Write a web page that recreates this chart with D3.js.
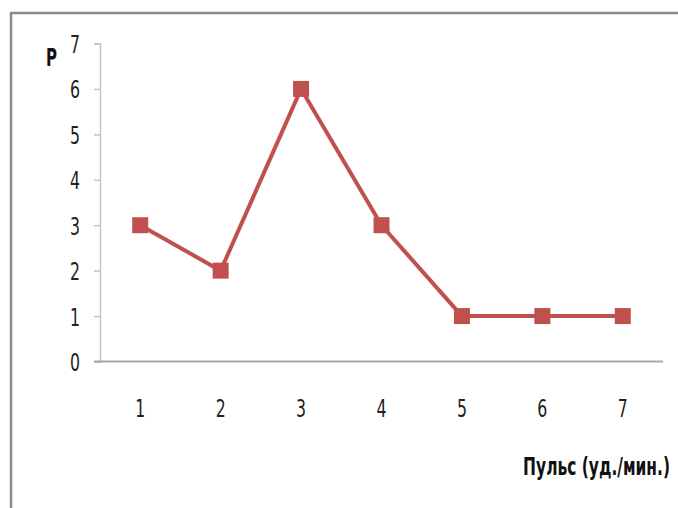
<!DOCTYPE html>
<html><head><meta charset="utf-8">
<script src="https://cdn.jsdelivr.net/npm/d3@7"></script>
<style>
html,body{margin:0;padding:0;background:#fff;}
text{font-family:"DejaVu Sans Condensed","Liberation Sans Narrow","Liberation Sans",sans-serif;}
</style></head>
<body>
<svg id="chart" width="678" height="508"></svg>
<script>
const categories = ["1","2","3","4","5","6","7"];
const values = [3,2,6,3,1,1,1];
const yTicks = [0,1,2,3,4,5,6,7];
const yLabel = "Р";
const xLabel = "Пульс (уд./мин.)";

(function(){
const svg = d3.select("#chart");
const W = 678, H = 508;
const mLeft = 100, mRight = 663, mTop = 43.5, mBottom = 361.5;
const sx = 0.7;

// frame
svg.append("path").attr("d", `M11,${H} L11,13 L${W},13`).attr("fill","none")
  .attr("stroke","#8c8c8c").attr("stroke-width",2.5);

const x = d3.scaleBand().domain(categories).range([mLeft, mRight]).paddingInner(0).paddingOuter(0);
const y = d3.scaleLinear().domain([0,7]).range([mBottom, mTop]);

// y axis
const yAxis = svg.append("g").attr("transform",`translate(${mLeft},0)`)
  .call(d3.axisLeft(y).tickValues(yTicks).tickSize(6).tickPadding(14).tickFormat(d3.format("d")));
yAxis.select(".domain").attr("stroke","#c4c4c4").attr("stroke-width",1.5);
yAxis.selectAll(".tick line").attr("stroke","#c4c4c4").attr("stroke-width",1.5);
yAxis.selectAll("text").attr("font-size",25).attr("fill","#222")
  .attr("transform",`scale(${sx},1)`).attr("x", -20/sx).attr("dy",0).attr("y",9);

// x axis
const xAxis = svg.append("g").attr("transform",`translate(0,${mBottom})`)
  .call(d3.axisBottom(x).tickSize(0).tickPadding(38));
xAxis.select(".domain").attr("stroke","#a8a8a8").attr("stroke-width",2).attr("d",`M${mLeft-6},0H${mRight}`);
xAxis.selectAll("text").attr("font-size",25).attr("fill","#222")
  .attr("transform",`scale(${sx},1)`).attr("x",0).attr("dy",0).attr("y",55.5);

// line
const cx = d => x(d) + x.bandwidth()/2;
svg.append("path").datum(values)
  .attr("fill","none").attr("stroke","#c0504d").attr("stroke-width",4).attr("stroke-linejoin","round")
  .attr("d", d3.line().x((d,i)=>cx(categories[i])).y(d=>y(d)));

svg.selectAll("rect.m").data(values).join("rect").attr("class","m")
  .attr("x",(d,i)=>cx(categories[i])-8).attr("y",d=>y(d)-8)
  .attr("width",16).attr("height",16).attr("fill","#c0504d");

// labels
svg.append("text").attr("x",46).attr("y",66).attr("font-size",24).attr("font-weight","bold")
  .attr("fill","#111").attr("textLength",11).attr("lengthAdjust","spacingAndGlyphs").text(yLabel);
const t = svg.append("text").attr("text-anchor","end").attr("font-size",24).attr("font-weight","bold")
  .attr("fill","#111").text(xLabel);
const nat = t.node().getComputedTextLength();
const k = 147 / nat;
t.attr("transform",`translate(670,475) scale(${k},1)`);
})();
</script>
</body></html>
